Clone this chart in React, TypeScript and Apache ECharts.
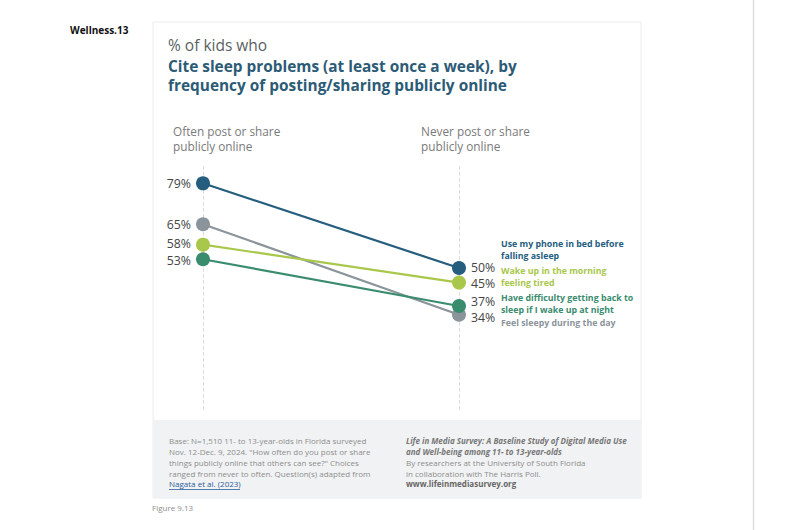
import React, { useEffect, useRef } from "react";
import * as echarts from "echarts";

const columns = ["Often post or share\npublicly online", "Never post or share\npublicly online"];
const seriesNames = [
  "Use my phone in bed before\nfalling asleep",
  "Wake up in the morning\nfeeling tired",
  "Have difficulty getting back to\nsleep if I wake up at night",
  "Feel sleepy during the day",
];
const often = [79, 58, 53, 65];
const never = [50, 45, 37, 34];
const colors = ["#245d7e", "#a8c74b", "#3a8c6e", "#8b949b"];
const legendY = [244, 271, 298, 323];
const leftLabelOffset = [0, -1, 1, 0];
const rightLabelOffset = [-1, 1, -4, 3];

export default function App() {
  const ref = useRef<HTMLDivElement>(null);
  useEffect(() => {
    const chart = echarts.init(ref.current!, null, { renderer: "svg" });
    const font = "'Open Sans', 'Noto Sans', sans-serif";
    const series: any[] = seriesNames.map((name, i) => ({
      type: "line",
      name,
      symbol: "circle",
      symbolSize: 14,
      lineStyle: { color: colors[i], width: 2.2 },
      itemStyle: { color: colors[i] },
      z: 10 - i,
      data: [
        {
          value: often[i],
          label: {
            show: true,
            position: "left",
            distance: 5,
            formatter: "{c}%",
            color: "#444",
            fontSize: 12.3,
            lineHeight: 11,
            fontFamily: font,
            offset: [0, leftLabelOffset[i]],
          },
        },
        {
          value: never[i],
          label: {
            show: true,
            position: "right",
            distance: 5,
            formatter: "{c}%",
            color: "#444",
            fontSize: 12.3,
            lineHeight: 11,
            fontFamily: font,
            offset: [0, rightLabelOffset[i]],
          },
        },
      ],
    }));
    series.push({
      type: "line",
      data: [],
      silent: true,
      markLine: {
        symbol: "none",
        silent: true,
        label: { show: false },
        lineStyle: { type: "dashed", color: "#dcdcdc", width: 1 },
        data: [
          [{ coord: [0, 85] }, { coord: [0, 1.3] }],
          [{ coord: [1, 85] }, { coord: [1, 1.3] }],
        ],
      },
    });

    const legendTexts = seriesNames.map((n, i) => ({
      type: "text",
      left: 501,
      top: legendY[i] - 6,
      style: {
        text: n,
        fill: colors[i],
        font: `bold 8.8px ${font}`,
        lineHeight: 12,
      },
    }));

    const footLeft = [
      "Base: N=1,510 11- to 13-year-olds in Florida surveyed",
      "Nov. 12-Dec. 9, 2024. \"How often do you post or share",
      "things publicly online that others can see?\" Choices",
      "ranged from never to often. Question(s) adapted from",
    ];

    chart.setOption({
      animation: false,
      backgroundColor: "#ffffff",
      grid: { left: 203, width: 256, top: 122, height: 292 },
      xAxis: { type: "category", data: columns, boundaryGap: false, show: false },
      yAxis: { type: "value", min: 0, max: 100, show: false },
      series,
      graphic: [
        {
          type: "line",
          z: -20,
          shape: { x1: 753.5, y1: 0, x2: 753.5, y2: 530 },
          style: { stroke: "#dedede", lineWidth: 1.5 },
        },
        {
          type: "rect",
          z: -20,
          shape: { x: 153, y: 22, width: 488, height: 476 },
          style: { fill: "#fff", stroke: "#ececec", lineWidth: 1 },
        },
        {
          type: "rect",
          z: -19,
          shape: { x: 153, y: 420, width: 488, height: 78 },
          style: { fill: "#f1f2f3" },
        },
        {
          type: "text",
          left: 70,
          top: 25,
          style: { text: "Wellness.13", fill: "#111", font: `bold 10px ${font}` },
        },
        {
          type: "text",
          left: 168,
          top: 37,
          style: { text: "% of kids who", fill: "#5a5f63", font: `15.5px ${font}` },
        },
        {
          type: "text",
          left: 168,
          top: 57,
          style: {
            text: "Cite sleep problems (at least once a week), by\nfrequency of posting/sharing publicly online",
            fill: "#2c5b76",
            font: `bold 15.4px ${font}`,
            lineHeight: 19,
          },
        },
        {
          type: "text",
          left: 173,
          top: 123,
          style: { text: columns[0], fill: "#7a7a7a", font: `11.8px ${font}`, lineHeight: 15 },
        },
        {
          type: "text",
          left: 421,
          top: 123,
          style: { text: columns[1], fill: "#7a7a7a", font: `11.8px ${font}`, lineHeight: 15 },
        },
        ...legendTexts,
        {
          type: "text",
          left: 169,
          top: 435,
          style: { text: footLeft.join("\n"), fill: "#8d8d8d", font: `8px ${font}`, lineHeight: 11 },
        },
        {
          type: "text",
          left: 169,
          top: 479,
          style: { text: "Nagata et al. (2023)", fill: "#2a5d9a", font: `8px ${font}` },
        },
        {
          type: "line",
          shape: { x1: 169, y1: 489.5, x2: 240, y2: 489.5 },
          style: { stroke: "#2a5d9a", lineWidth: 0.8 },
        },
        {
          type: "text",
          left: 406,
          top: 435,
          style: {
            text: "Life in Media Survey: A Baseline Study of Digital Media Use\nand Well-being among 11- to 13-year-olds",
            fill: "#777",
            font: `italic bold 8px ${font}`,
            lineHeight: 11,
          },
        },
        {
          type: "text",
          left: 406,
          top: 457,
          style: {
            text: "By researchers at the University of South Florida\nin collaboration with The Harris Poll.",
            fill: "#8d8d8d",
            font: `8px ${font}`,
            lineHeight: 11,
          },
        },
        {
          type: "text",
          left: 406,
          top: 479,
          style: { text: "www.lifeinmediasurvey.org", fill: "#666", font: `bold 8px ${font}` },
        },
        {
          type: "text",
          left: 152,
          top: 503,
          style: { text: "Figure 9.13", fill: "#8d8d8d", font: `8px ${font}` },
        },
      ],
    });
    return () => chart.dispose();
  }, []);
  return <div ref={ref} style={{ position: "fixed", left: 0, top: 0, width: 800, height: 530 }} />;
}
